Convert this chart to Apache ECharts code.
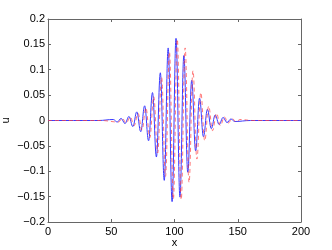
<!DOCTYPE html>
<html><head><meta charset="utf-8">
<script src="https://cdn.jsdelivr.net/npm/echarts@6/dist/echarts.min.js"></script>
<style>html,body{margin:0;padding:0;background:#fff}#c{width:332px;height:250px}</style>
</head><body><div id="c"></div>
<script>
// tick labels
const xTickLabels = ['0', '50', '100', '150', '200'];
const yTickLabels = ['\u22120.2', '\u22120.15', '\u22120.1', '\u22120.05', '0', '0.05', '0.1', '0.15', '0.2'];

// blue solid series: x positions and values (extrema)
const blueX = [0, 40, 51.6, 54.7, 57.8, 60.9, 64.0, 67.1, 70.2, 73.3, 76.4, 79.5, 82.6, 85.7, 88.8, 91.9, 95.0, 98.1, 101.2, 104.3, 107.4, 110.5, 113.6, 116.7, 119.8, 122.9, 126.0, 129.1, 132.2, 135.3, 138.4, 141.5, 144.6, 147.7, 160, 200];
const blueY = [0, 0, 0.002, -0.003, 0.004, -0.006, 0.008, -0.012, 0.017, -0.022, 0.029, -0.040, 0.055, -0.072, 0.094, -0.118, 0.143, -0.160, 0.162, -0.151, 0.128, -0.102, 0.079, -0.060, 0.044, -0.032, 0.022, -0.016, 0.011, -0.008, 0.006, -0.004, 0.003, -0.002, 0, 0];

// red dashed series
const redX = [0, 42, 55.7, 58.8, 61.9, 65.0, 68.1, 71.2, 74.3, 77.4, 80.5, 83.6, 86.7, 89.8, 92.9, 96.0, 99.1, 102.2, 105.3, 108.4, 111.5, 114.6, 117.7, 120.8, 123.9, 127.0, 130.1, 133.2, 136.3, 139.4, 142.5, 145.6, 148.7, 151.8, 162, 200];
const redY = [0, 0, -0.003, 0.004, -0.005, 0.007, -0.010, 0.014, -0.019, 0.025, -0.034, 0.047, -0.064, 0.085, -0.110, 0.135, -0.155, 0.160, -0.156, 0.143, -0.122, 0.098, -0.076, 0.055, -0.040, 0.028, -0.020, 0.014, -0.010, 0.007, -0.005, 0.004, -0.003, 0.002, 0, 0];

const zip = (xs, ys) => xs.map((x, i) => [x, ys[i]]);
const axisColor = '#666';
const font = {fontFamily: 'Liberation Sans, Arial, sans-serif', fontSize: 11, color: '#000'};

const chart = echarts.init(document.getElementById('c'), null, {renderer: 'canvas'});
const baseX = {
  type: 'value', min: 0, max: 200, interval: 50,
  axisLine: {show: true, onZero: false, lineStyle: {color: axisColor, width: 1}},
  axisTick: {show: true, inside: true, length: 3, lineStyle: {color: axisColor}},
  splitLine: {show: false}
};
const baseY = {
  type: 'value', min: -0.2, max: 0.2, interval: 0.05,
  axisLine: {show: true, onZero: false, lineStyle: {color: axisColor, width: 1}},
  axisTick: {show: true, inside: true, length: 3, lineStyle: {color: axisColor}},
  splitLine: {show: false}
};
chart.setOption({
  animation: false,
  grid: {left: 48, right: 31, top: 19, bottom: 28, containLabel: false, outerBoundsMode: 'none'},
  xAxis: [
    Object.assign({}, baseX, {
      position: 'bottom',
      axisLabel: Object.assign({margin: 4, formatter: (v, i) => xTickLabels[i]}, font),
      name: 'x', nameLocation: 'middle', nameGap: 15, nameMoveOverlap: false,
      nameTextStyle: font
    }),
    Object.assign({}, baseX, {position: 'top', axisLabel: {show: false}})
  ],
  yAxis: [
    Object.assign({}, baseY, {
      position: 'left',
      axisLabel: Object.assign({margin: 3, formatter: (v, i) => yTickLabels[i]}, font),
      name: 'u', nameLocation: 'middle', nameGap: 37, nameRotate: 90, nameMoveOverlap: false,
      nameTextStyle: font
    }),
    Object.assign({}, baseY, {position: 'right', axisLabel: {show: false}})
  ],
  series: [
    {
      type: 'line', data: zip(blueX, blueY), showSymbol: false,
      smooth: 0.4, smoothMonotone: 'x',
      lineStyle: {color: '#3a3aff', width: 1}
    },
    {
      type: 'line', data: zip(redX, redY), showSymbol: false,
      smooth: 0.4, smoothMonotone: 'x',
      lineStyle: {color: '#ff4040', width: 1, type: [4, 3], opacity: 0.7}
    }
  ]
});
</script>
</body></html>
